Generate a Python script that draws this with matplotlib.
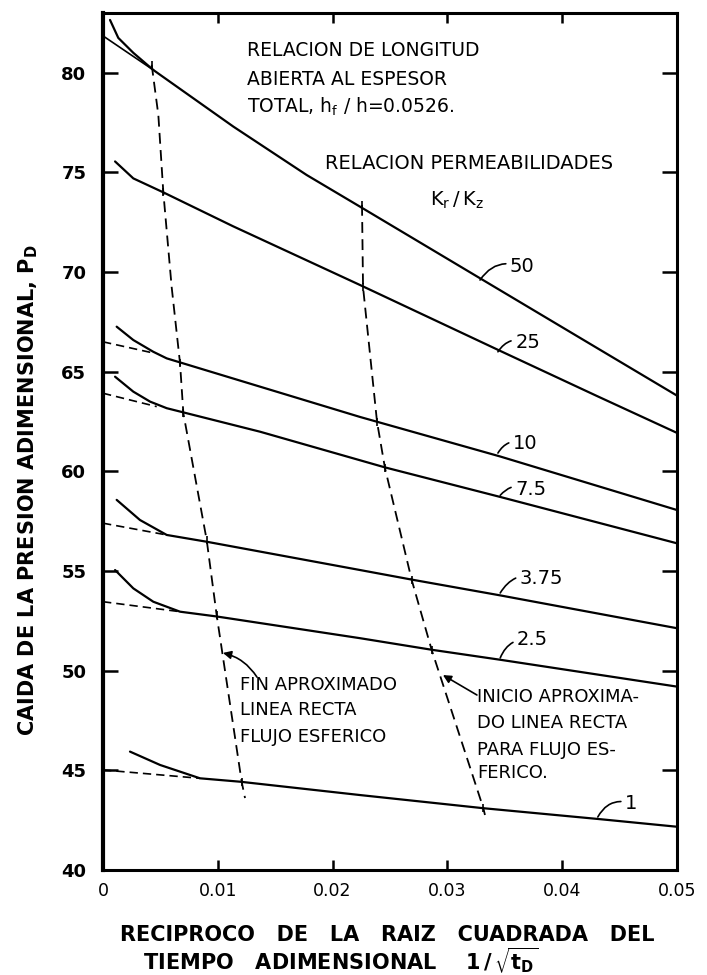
import matplotlib
matplotlib.use('Agg')
import matplotlib.pyplot as plt

# curves: x = 1/sqrt(tD), y = pD
x50 = [0.00061, 0.00133, 0.00264, 0.00438, 0.01135, 0.01774, 0.02239, 0.0331, 0.04242, 0.05]
y50 = [82.65, 81.75, 81.0, 80.14, 77.3, 74.87, 73.28, 69.6, 66.4, 63.8]
x25 = [0.00105, 0.00264, 0.00525, 0.01132, 0.02239, 0.03458, 0.04303, 0.05]
y25 = [75.55, 74.7, 74.0, 72.3, 69.35, 66.05, 63.78, 61.93]
x10 = [0.00119, 0.00264, 0.00438, 0.00555, 0.01368, 0.02239, 0.03458, 0.05]
y10 = [67.26, 66.59, 66.0, 65.67, 64.25, 62.73, 60.75, 58.06]
x75 = [0.00105, 0.00264, 0.0041, 0.00555, 0.01368, 0.02456, 0.03458, 0.05]
y75 = [64.75, 64.0, 63.5, 63.17, 61.99, 60.2, 58.72, 56.39]
x375 = [0.00119, 0.00322, 0.00555, 0.00903, 0.02239, 0.02689, 0.03458, 0.05]
y375 = [58.57, 57.56, 56.81, 56.47, 55.05, 54.57, 53.78, 52.13]
x25b = [0.00105, 0.00264, 0.00438, 0.00671, 0.0099, 0.02239, 0.02863, 0.03458, 0.05]
y25b = [55.05, 54.13, 53.46, 52.96, 52.72, 51.63, 51.05, 50.55, 49.2]
x1 = [0.00235, 0.00497, 0.00845, 0.01193, 0.02239, 0.03313, 0.04329, 0.05]
y1 = [45.94, 45.27, 44.6, 44.43, 43.76, 43.1, 42.55, 42.17]

# straight-line extrapolations back to x = 0 (start, end)
ext_x = [[0, 0.00438], [0, 0.00453], [0, 0.00468], [0, 0.00555], [0, 0.00671], [0, 0.00845]]
ext_y = [[81.85, 80.14], [66.5, 65.92], [63.92, 63.25], [57.4, 56.81], [53.46, 52.96], [45.02, 44.6]]

# end / start of the straight-line (spherical flow) region
fin_x = [0.00424, 0.00482, 0.00525, 0.00598, 0.00671, 0.007, 0.00903, 0.0099, 0.01208, 0.01237]
fin_y = [80.4, 77.88, 74.03, 69.25, 65.42, 62.91, 56.56, 52.79, 44.42, 43.61]
ini_x = [0.02256, 0.02265, 0.02387, 0.02456, 0.02689, 0.02863, 0.03313, 0.03327]
ini_y = [73.37, 69.25, 62.48, 60.17, 54.55, 51.04, 43.1, 42.76]

curve_labels = ['50', '25', '10', '7.5', '3.75', '2.5', '1']
label_pt = [(0.03284, 69.6), (0.0344, 66.0), (0.0344, 60.92), (0.0346, 58.8),
            (0.0346, 53.9), (0.0346, 50.64), (0.0431, 42.66)]
label_txt = [(0.03545, 70.26), (0.0359, 66.49), (0.0357, 61.42), (0.0359, 59.07),
             (0.0363, 54.65), (0.03606, 51.54), (0.04547, 43.36)]

xticks = [0, 0.01, 0.02, 0.03, 0.04, 0.05]
xticklabels = ['0', '0.01', '0.02', '0.03', '0.04', '0.05']
yticks = [40, 45, 50, 55, 60, 65, 70, 75, 80]

fig = plt.figure(figsize=(7.07, 9.75), dpi=100)
ax = fig.add_axes([0.1457, 0.1077, 0.8119, 0.879])

LW = 1.6
for xs, ys in [(x50, y50), (x25, y25), (x10, y10), (x75, y75), (x375, y375), (x25b, y25b), (x1, y1)]:
    ax.plot(xs, ys, 'k-', lw=LW, solid_capstyle='round', solid_joinstyle='round')

for i, (xs, ys) in enumerate(zip(ext_x, ext_y)):
    if i == 0:
        ax.plot(xs, ys, 'k-', lw=1.2)
    else:
        ax.plot(xs, ys, 'k', lw=1.2, linestyle=(0, (5, 3)))

ax.plot(fin_x, fin_y, 'k', lw=1.3, linestyle=(0, (6, 3.5)),
        marker='|', markersize=6, markeredgewidth=1.2, markevery=[0, 2, 4, 5, 6, 7, 8])
ax.plot(ini_x, ini_y, 'k', lw=1.3, linestyle=(0, (6, 3.5)),
        marker='|', markersize=6, markeredgewidth=1.2, markevery=[0, 1, 2, 3, 4, 5, 6])

for s, p, t in zip(curve_labels, label_pt, label_txt):
    ax.annotate(s, xy=p, xytext=t, ha='left', va='center', fontsize=14,
                arrowprops=dict(arrowstyle='-', lw=1.2, shrinkA=1, shrinkB=0,
                                connectionstyle='arc3,rad=0.4'))

# texts inside the plot
ax.text(0.01254, 81.14, 'RELACION DE LONGITUD', fontsize=13.5, va='center')
ax.text(0.01254, 79.64, 'ABIERTA AL ESPESOR', fontsize=13.5, va='center')
ax.text(0.01254, 78.28, r'TOTAL, $\mathregular{h_f}$ / h=0.0526.', fontsize=13.5, va='center')
ax.text(0.01934, 75.47, 'RELACION PERMEABILIDADES', fontsize=14, va='center')
ax.text(0.03083, 73.62, r'$\mathregular{K_r\,/\,K_z}$', fontsize=14, va='center', ha='center')

fin_txt = ['FIN APROXIMADO', 'LINEA RECTA', 'FLUJO ESFERICO']
for s, yy in zip(fin_txt, [49.28, 48.03, 46.67]):
    ax.text(0.01193, yy, s, fontsize=13, va='center')
ini_txt = ['INICIO APROXIMA-', 'DO LINEA RECTA', 'PARA FLUJO ES-', 'FERICO.']
for s, yy in zip(ini_txt, [48.68, 47.38, 46.02, 44.87]):
    ax.text(0.03257, yy, s, fontsize=13, va='center')

ax.annotate('', xy=(0.01045, 50.89), xytext=(0.01341, 49.68),
            arrowprops=dict(arrowstyle='-|>', lw=1.2, color='k', mutation_scale=12,
                            shrinkA=0, shrinkB=0, connectionstyle='arc3,rad=0.2'))
ax.annotate('', xy=(0.02961, 49.78), xytext=(0.03257, 48.78),
            arrowprops=dict(arrowstyle='-|>', lw=1.2, color='k', mutation_scale=12,
                            shrinkA=0, shrinkB=0, connectionstyle='arc3,rad=0.0'))

ax.set_xlim(0, 0.05)
ax.set_ylim(40, 83)
ax.set_xticks(xticks)
ax.set_xticklabels(xticklabels)
ax.set_yticks(yticks)
ax.tick_params(axis='y', direction='in', length=11, width=1.8, pad=12,
               labelsize=13, left=True, right=True)
ax.tick_params(axis='x', direction='in', length=7, width=1.8, pad=9,
               labelsize=12.5, bottom=True, top=True)
for lab in ax.get_yticklabels():
    lab.set_fontweight('bold')
for sp in ax.spines.values():
    sp.set_linewidth(2.2)
ax.spines['left'].set_linewidth(3)

fig.text(0.04, 0.497, r'CAIDA DE LA PRESION ADIMENSIONAL, P$\mathregular{_D}$',
         rotation=90, ha='center', va='center', fontsize=15, fontweight='bold')
fig.text(0.17, 1 - 935/975, 'RECIPROCO   DE   LA   RAIZ   CUADRADA   DEL',
         ha='left', va='center', fontsize=15, fontweight='bold')
fig.text(0.202, 1 - 960/975, r'TIEMPO   ADIMENSIONAL    $\mathbf{1\,/\,\sqrt{t_D}}$',
         ha='left', va='center', fontsize=15, fontweight='bold')

plt.savefig('out.png', dpi=100)
